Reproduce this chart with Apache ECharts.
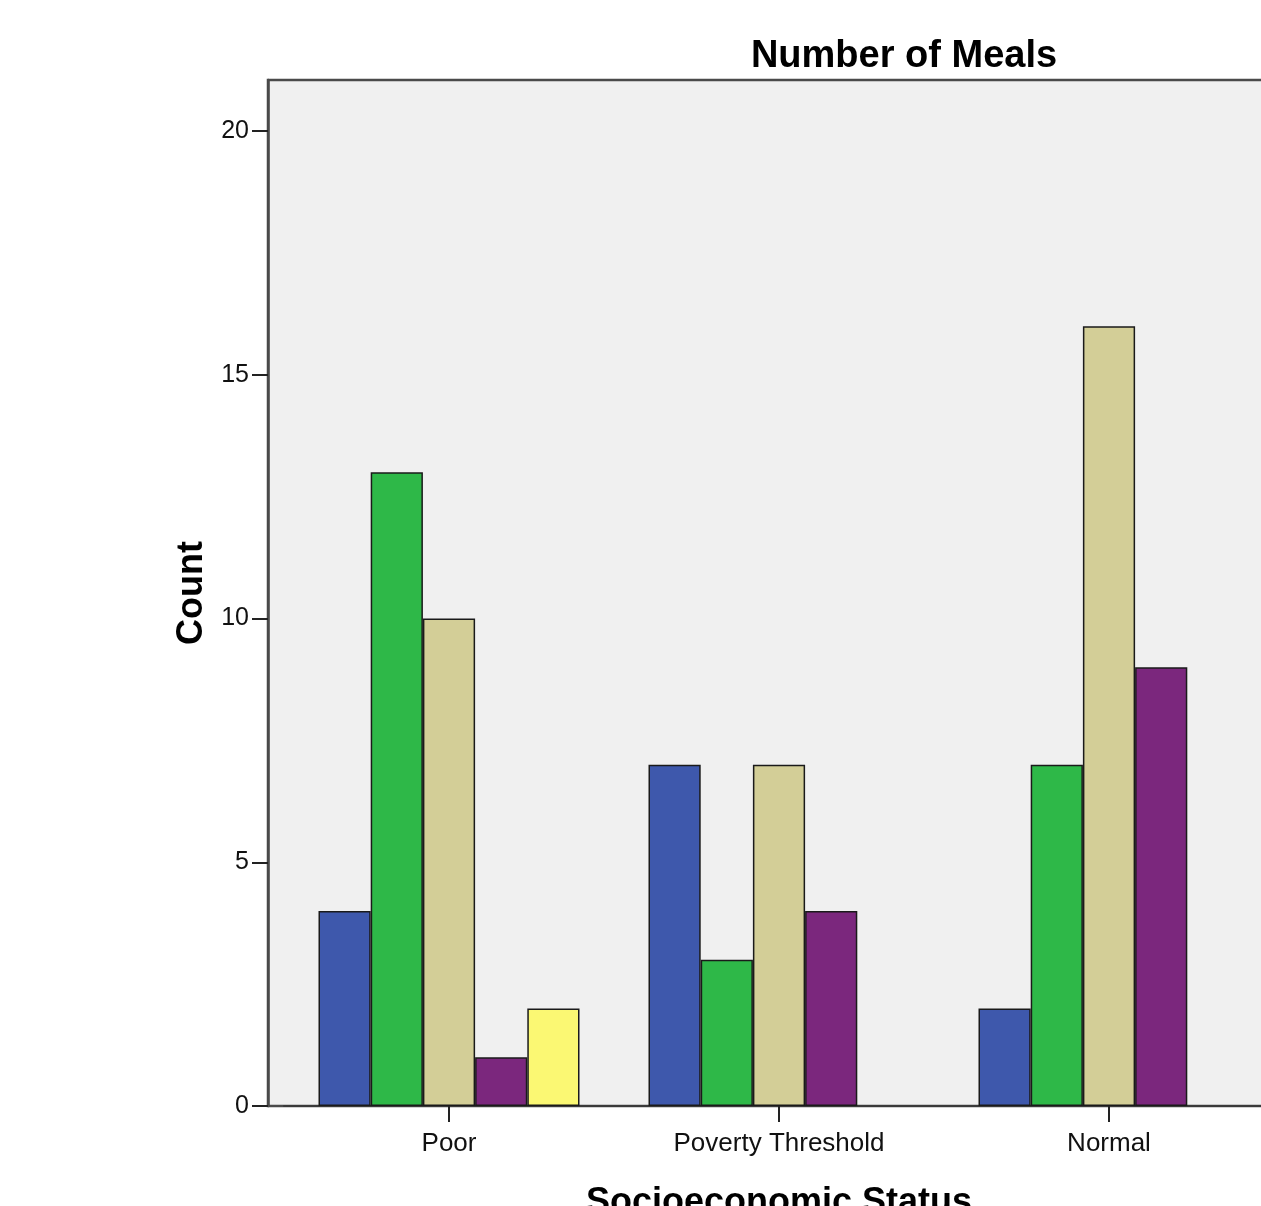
<!DOCTYPE html>
<html>
<head>
<meta charset="utf-8">
<script src="https://cdn.jsdelivr.net/npm/echarts@6/dist/echarts.min.js"></script>
<style>
html,body{margin:0;padding:0;background:#fff;}
#chart{width:1261px;height:1206px;}
</style>
</head>
<body>
<div id="chart"></div>
<script>
const categories = ['Poor', 'Poverty Threshold', 'Normal'];
const mealSeriesNames = ['1', '2', '3', '4', '5'];
const meals1 = [4, 7, 2];
const meals2 = [13, 3, 7];
const meals3 = [10, 7, 16];
const meals4 = [1, 4, 9];
const meals5 = [2, null, null];
const colors = ['#3e58ac', '#2eb848', '#d3ce97', '#7b277d', '#fbf873'];
const yTicks = [0, 5, 10, 15, 20];

const chart = echarts.init(document.getElementById('chart'));
const font = '"Liberation Sans", Arial, sans-serif';
const allData = [meals1, meals2, meals3, meals4, meals5];

chart.setOption({
  animation: false,
  backgroundColor: '#ffffff',
  graphic: [
    {
      type: 'rect', z: -10,
      shape: { x: 268, y: 80, width: 1100, height: 1026 },
      style: { fill: '#f0f0f0', stroke: '#4a4a4a', lineWidth: 2.5 }
    },
    {
      type: 'text', z: 10,
      x: 904, y: 57,
      style: { text: 'Number of Meals', font: 'bold 38px ' + font, fill: '#000', textAlign: 'center', textVerticalAlign: 'middle' }
    }
  ],
  grid: { left: 284, top: 80, width: 990, height: 1026, containLabel: false, outerBoundsMode: 'none' },
  xAxis: {
    type: 'category',
    data: categories,
    axisLine: { show: true, lineStyle: { color: '#3a3a3a', width: 2 } },
    axisTick: { show: true, alignWithLabel: true, length: 16, lineStyle: { color: '#222', width: 2 } },
    axisLabel: { margin: 25, fontSize: 26, color: '#111', fontFamily: font },
    name: 'Socioeconomic Status',
    nameLocation: 'middle',
    nameGap: 79,
    nameTextStyle: { fontSize: 36, fontWeight: 'bold', color: '#000', fontFamily: font }
  },
  yAxis: {
    type: 'value',
    min: 0, max: 21.05, interval: 5,
    offset: 16,
    splitLine: { show: false },
    axisLine: { show: true, lineStyle: { color: '#4a4a4a', width: 2.5 } },
    axisTick: { show: true, length: 16, lineStyle: { color: '#222', width: 2 } },
    axisLabel: {
      margin: 19, fontSize: 25, color: '#111', fontFamily: font, showMaxLabel: false,
      formatter: v => (yTicks.indexOf(v) >= 0 ? String(v) : '')
    },
    name: 'Count',
    nameLocation: 'middle',
    nameRotate: 90,
    nameGap: 56,
    nameTextStyle: { fontSize: 36, fontWeight: 'bold', color: '#000', fontFamily: font }
  },
  series: allData.map((d, i) => ({
    name: mealSeriesNames[i],
    type: 'bar',
    data: d,
    barWidth: 52.2,
    barGap: '0%',
    itemStyle: { color: colors[i], borderColor: '#1a1a1a', borderWidth: 1.5 }
  }))
});
</script>
</body>
</html>
